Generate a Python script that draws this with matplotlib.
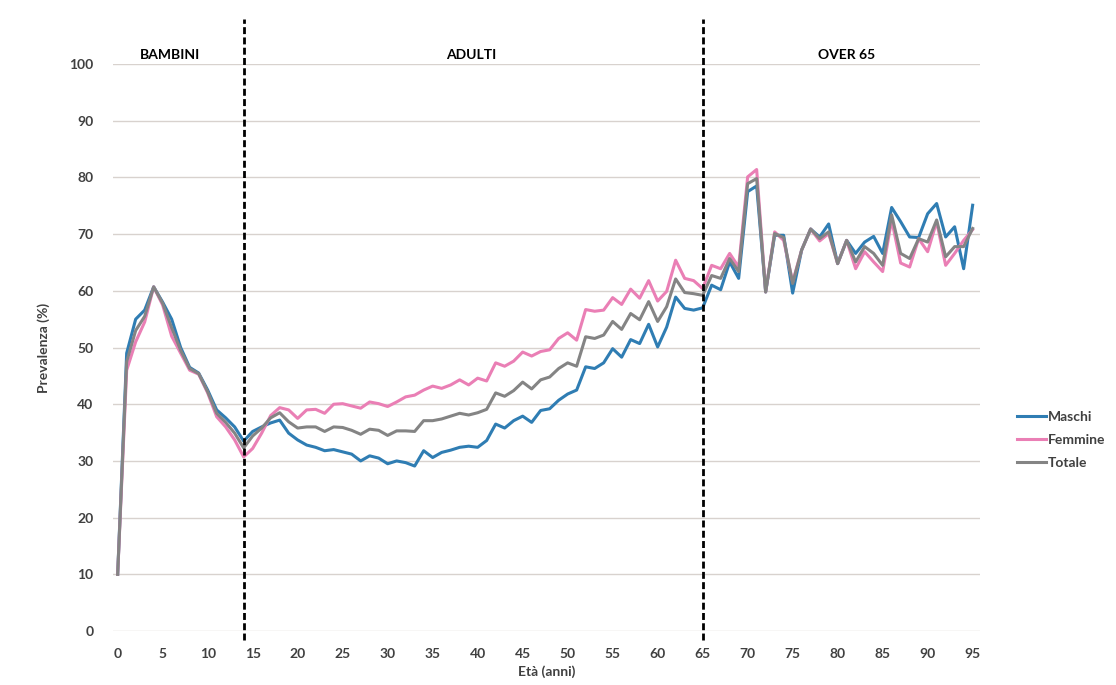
import numpy as np
import matplotlib
matplotlib.use("Agg")
import matplotlib.pyplot as plt

plt.rcParams['font.family'] = ['Lato', 'DejaVu Sans']

# età 0..95
eta = list(range(96))

maschi = [10, 49, 55, 56.6, 60.7, 58, 55, 50, 46.5, 45.5,
          42.5, 39, 37.6, 36, 33.5, 35.2, 36, 36.7, 37.2, 34.9,
          33.7, 32.8, 32.4, 31.8, 32, 31.6, 31.2, 30, 30.9, 30.5,
          29.5, 30, 29.7, 29.1, 31.8, 30.6, 31.5, 31.9, 32.4, 32.6,
          32.4, 33.6, 36.5, 35.8, 37.1, 37.9, 36.8, 38.9, 39.2, 40.7,
          41.8, 42.5, 46.6, 46.3, 47.3, 49.8, 48.3, 51.4, 50.7, 54.1,
          50.1, 53.6, 58.9, 56.9, 56.6, 57, 61, 60.2, 65.1, 62.2,
          77.5, 78.5, 59.8, 69.8, 69.8, 59.6, 67.2, 70.9, 69.5, 71.8,
          64.8, 68.9, 66.6, 68.6, 69.6, 66.6, 74.7, 72.2, 69.5, 69.4,
          73.6, 75.4, 69.5, 71.3, 63.9, 75.1]

femmine = [10, 46, 51, 54.5, 60.7, 57.5, 52, 49, 46, 45.3,
           42, 37.8, 36, 33.7, 30.7, 32.2, 34.9, 38, 39.4, 39,
           37.5, 39, 39.1, 38.4, 40, 40.1, 39.7, 39.3, 40.4, 40.1,
           39.6, 40.4, 41.3, 41.6, 42.5, 43.2, 42.8, 43.4, 44.3, 43.4,
           44.6, 44.1, 47.3, 46.7, 47.6, 49.2, 48.5, 49.3, 49.6, 51.6,
           52.6, 51.3, 56.7, 56.4, 56.6, 58.8, 57.6, 60.3, 58.7, 61.8,
           58.2, 59.9, 65.4, 62.2, 61.8, 60.4, 64.5, 63.9, 66.6, 64.2,
           80.1, 81.4, 59.8, 70.4, 68.9, 61.6, 67.2, 70.9, 68.8, 70.1,
           64.8, 68.9, 63.9, 66.9, 65.1, 63.4, 72.5, 64.9, 64.2, 69.2,
           66.9, 72.2, 64.5, 66.6, 68.9, 70.8]

totale = [10, 47.5, 53, 55.5, 60.7, 57.8, 53.5, 49.5, 46.3, 45.4,
          42.2, 38.4, 36.8, 34.9, 32.3, 34.4, 35.8, 37.6, 38.5, 36.9,
          35.8, 36, 36, 35.2, 36, 35.9, 35.4, 34.7, 35.6, 35.4,
          34.5, 35.3, 35.3, 35.2, 37.1, 37.1, 37.4, 37.9, 38.4, 38.1,
          38.5, 39.1, 42, 41.4, 42.4, 43.9, 42.7, 44.3, 44.8, 46.3,
          47.3, 46.7, 51.9, 51.6, 52.2, 54.6, 53.2, 56, 54.9, 58.1,
          54.6, 57.2, 62.1, 59.7, 59.5, 59.2, 62.7, 62.2, 65.7, 63.4,
          78.9, 79.8, 59.8, 70.1, 69.4, 61.3, 67.2, 70.9, 69.2, 70.4,
          64.8, 68.9, 65.1, 67.8, 66.6, 64.5, 73.4, 66.6, 65.7, 69.2,
          68.6, 72.5, 66, 67.8, 67.8, 71]

# fasce d'età: confini e etichette
confini = [14, 65]
fasce = ["BAMBINI", "ADULTI", "OVER 65"]
pos_fasce = [5.8, 39.3, 81]

x_ticks = list(range(0, 96, 5))
y_ticks = list(range(0, 101, 10))

fig = plt.figure(figsize=(11.16, 6.85), dpi=100)
ax = fig.add_axes([0.101, 0.0788, 0.777, 0.8277])

testo = '#404040'
for y in y_ticks:
    ax.axhline(y, color='#d8d2ce', lw=1.0, zorder=0)

ax.plot(eta, maschi, color='#2f7db3', lw=2.2, label='Maschi', zorder=3)
ax.plot(eta, femmine, color='#ea7fb5', lw=2.2, label='Femmine', zorder=3)
ax.plot(eta, totale, color='#848484', lw=2.2, label='Totale', zorder=4)

for c in confini:
    ax.plot([c, c], [-1.6, 108], color='black', lw=2.0,
            linestyle=(0, (2.5, 1.2)), clip_on=False, zorder=5)

for nome, px in zip(fasce, pos_fasce):
    ax.text(px, 101.6, nome, ha='center', va='center', fontsize=10,
            fontweight='bold', color='black', clip_on=False)

ax.set_xlim(-0.55, 95.8)
ax.set_ylim(0, 100)
ax.set_xticks(x_ticks)
ax.set_yticks(y_ticks)
ax.tick_params(length=0, labelsize=10, colors=testo, pad=12)
ax.tick_params(axis='y', pad=14)
for lab in ax.get_xticklabels() + ax.get_yticklabels():
    lab.set_fontweight('bold')
for s in ax.spines.values():
    s.set_visible(False)

ax.set_xlabel('Età (anni)', fontsize=10, fontweight='bold', color=testo, labelpad=4)
ax.set_ylabel('Prevalenza (%)', fontsize=10, fontweight='bold', color=testo, labelpad=14)

leg = fig.legend(loc='center left', bbox_to_anchor=(0.911, 0.358), frameon=False,
                 borderpad=0, borderaxespad=0,
                 handlelength=2.1, handletextpad=0.15, labelspacing=0.8,
                 prop={'weight': 'bold', 'size': 10})
for t in leg.get_texts():
    t.set_color(testo)

fig.savefig('out.png', dpi=100)
